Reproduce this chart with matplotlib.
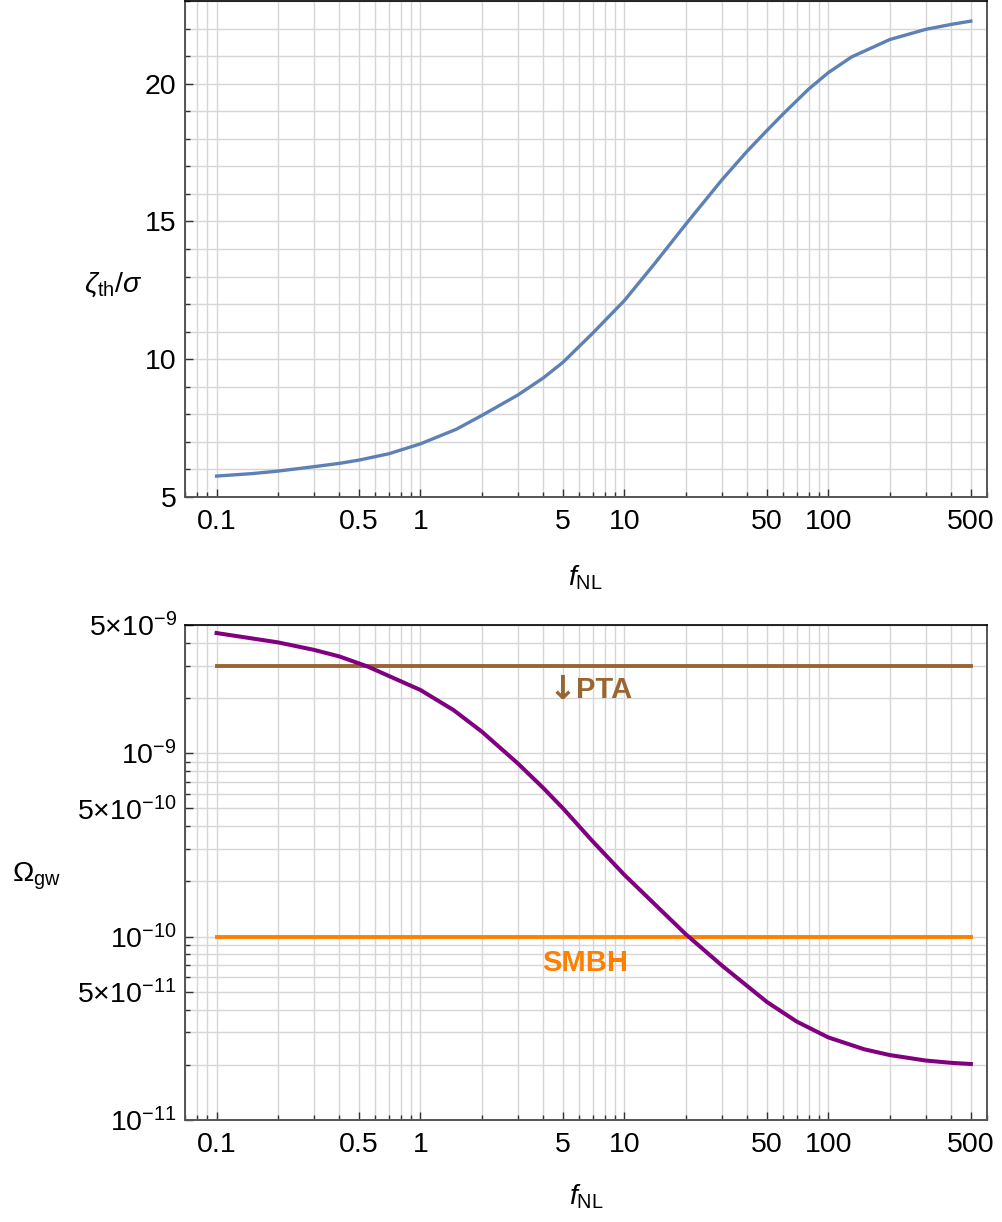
import numpy as np
import matplotlib
matplotlib.use('Agg')
import matplotlib.pyplot as plt
from matplotlib.ticker import FixedLocator, FixedFormatter, LogLocator, MultipleLocator, NullFormatter

plt.rcParams['font.family'] = ['Liberation Sans', 'DejaVu Sans']
plt.rcParams['mathtext.fontset'] = 'custom'
plt.rcParams['mathtext.rm'] = 'Liberation Sans'
plt.rcParams['mathtext.it'] = 'Liberation Sans:italic'
plt.rcParams['mathtext.bf'] = 'Liberation Sans:bold'

# 위 패널: zeta_th / sigma vs f_NL
fnl_top = [0.1, 0.15, 0.2, 0.3, 0.4, 0.5, 0.7, 1, 1.5, 2, 3, 4, 5, 7, 10, 14, 20, 30, 40, 50, 60, 80,
           100, 130, 200, 300, 400, 500]
zeta_ratio = [5.76, 5.85, 5.94, 6.10, 6.22, 6.34, 6.57, 6.93, 7.46, 7.96, 8.70, 9.32, 9.89, 10.95, 12.13,
              13.45, 14.9, 16.5, 17.55, 18.3, 18.9, 19.8, 20.4, 20.97, 21.6, 21.97, 22.15, 22.27]

# 아래 패널: Omega_gw vs f_NL
fnl_bot = [0.1, 0.2, 0.3, 0.4, 0.55, 1, 1.45, 2, 3, 4, 5, 7, 10, 20, 30, 50, 70, 100, 150, 200, 300, 400, 500]
omega_gw = [4.52e-9, 4.02e-9, 3.66e-9, 3.37e-9, 2.97e-9, 2.21e-9, 1.72e-9, 1.31e-9, 8.8e-10, 6.46e-10,
            5.0e-10, 3.3e-10, 2.17e-10, 1.03e-10, 6.97e-11, 4.40e-11, 3.44e-11, 2.82e-11, 2.43e-11,
            2.26e-11, 2.11e-11, 2.05e-11, 2.02e-11]
fnl_span = [0.1, 500]
pta_level = 3e-9
smbh_level = 1e-10

x_ticks = [0.1, 0.5, 1, 5, 10, 50, 100, 500]
x_labels = ['0.1', '0.5', '1', '5', '10', '50', '100', '500']
y_ticks_bot = [1e-11, 5e-11, 1e-10, 5e-10, 1e-9, 5e-9]
y_labels_bot = [r'$10^{-11}$', r'$5{\times}10^{-11}$', r'$10^{-10}$', r'$5{\times}10^{-10}$',
                r'$10^{-9}$', r'$5{\times}10^{-9}$']

W, H = 1002, 1222
fig = plt.figure(figsize=(W / 100, H / 100), dpi=100)
ax1 = fig.add_axes([185 / W, 1 - 497 / H, 802 / W, 496 / H])
ax2 = fig.add_axes([185 / W, 1 - 1120 / H, 802 / W, 495 / H])

grid_col = '#d6d6d6'
spine_col = '#555555'


def style_axes(ax):
    ax.set_xscale('log')
    ax.set_xlim(0.07, 600)
    ax.xaxis.set_major_locator(FixedLocator(x_ticks))
    ax.xaxis.set_major_formatter(FixedFormatter(x_labels))
    ax.xaxis.set_minor_locator(LogLocator(base=10, subs=np.arange(1, 10), numticks=100))
    ax.xaxis.set_minor_formatter(NullFormatter())
    ax.grid(which='both', color=grid_col, lw=1.0)
    ax.set_axisbelow(True)
    ax.tick_params(which='both', direction='in', color='#333333', width=1, labelsize=20.5,
                   top=False, right=False)
    ax.tick_params(which='major', length=6)
    ax.tick_params(which='minor', length=3.5)
    ax.tick_params(axis='x', pad=9)
    ax.tick_params(axis='y', pad=6)
    for s in ['left', 'right', 'bottom']:
        ax.spines[s].set_color(spine_col)
        ax.spines[s].set_linewidth(1.4)
    ax.spines['top'].set_color('black')
    ax.spines['top'].set_linewidth(1.2)


# 위 패널
style_axes(ax1)
ax1.plot(fnl_top, zeta_ratio, color='#5e81b5', lw=2.4)
ax1.set_ylim(5, 23)
ax1.yaxis.set_major_locator(MultipleLocator(5))
ax1.yaxis.set_minor_locator(MultipleLocator(1))
fig.text(113 / W, 1 - 285 / H, r'$\zeta_{\mathrm{th}}/\sigma$', fontsize=20.5, ha='center', va='center')
fig.text(585 / W, 1 - 578 / H, r'$f_{\mathrm{NL}}$', fontsize=20.5, ha='center', va='center')

# 아래 패널
style_axes(ax2)
ax2.set_yscale('log')
pta_col = '#996633'
smbh_col = '#ff8000'
ax2.plot(fnl_span, [pta_level, pta_level], color=pta_col, lw=2.8)
ax2.plot(fnl_span, [smbh_level, smbh_level], color=smbh_col, lw=2.8)
ax2.plot(fnl_bot, omega_gw, color='#800080', lw=2.9)
ax2.set_ylim(1e-11, 5e-9)
ax2.yaxis.set_major_locator(FixedLocator(y_ticks_bot))
ax2.yaxis.set_major_formatter(FixedFormatter(y_labels_bot))
ax2.yaxis.set_minor_locator(LogLocator(base=10, subs=np.arange(1, 10), numticks=100))
ax2.yaxis.set_minor_formatter(NullFormatter())

# 라벨 위치 (데이터 좌표)
pta_pos = (5.77, 2.2e-9)
smbh_pos = (6.43, 7.2e-11)
ax2.text(pta_pos[0], pta_pos[1], 'PTA', color=pta_col, fontsize=21, fontweight='bold',
         ha='left', va='center')
ax2.annotate('\u2193', xy=pta_pos, xytext=(0.5, 0.5), textcoords='offset points',
             color=pta_col, fontsize=24, fontweight='bold', family='DejaVu Sans',
             ha='right', va='center')
ax2.text(smbh_pos[0], smbh_pos[1], 'SMBH', color=smbh_col, fontsize=21, fontweight='bold',
         ha='center', va='center')
fig.text(37 / W, 1 - 876 / H, r'$\Omega_{\mathrm{gw}}$', fontsize=20.5, ha='center', va='center')
fig.text(586 / W, 1 - 1197 / H, r'$f_{\mathrm{NL}}$', fontsize=20.5, ha='center', va='center')

fig.savefig('out.png', dpi=100)
